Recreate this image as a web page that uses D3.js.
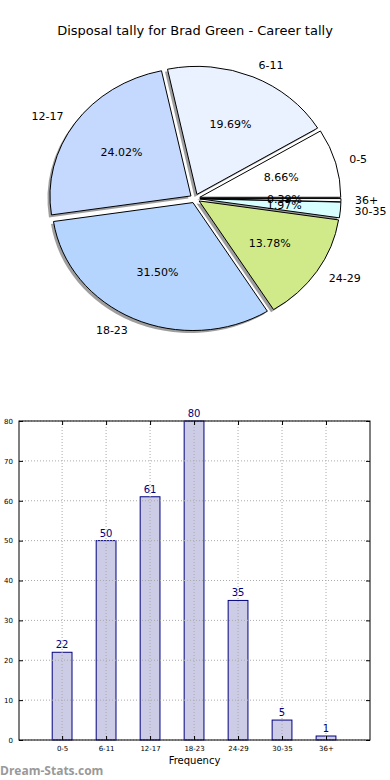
<!DOCTYPE html>
<html>
<head>
<meta charset="utf-8">
<script src="https://cdn.jsdelivr.net/npm/d3@7"></script>
<style>
  body { margin: 0; background: #fff; }
  svg { display: block; font-family: "DejaVu Sans", sans-serif; }
</style>
</head>
<body>
<svg id="chart" width="390" height="780"></svg>
<script>
var categories = ["0-5", "6-11", "12-17", "18-23", "24-29", "30-35", "36+"];
var tally = [22, 50, 61, 80, 35, 5, 1];
var sliceColors = ["#ffffff", "#eaf2ff", "#c5d9ff", "#b5d5ff", "#d0ea8a", "#d8ffff", "#ffffff"];
var yTicks = [0, 10, 20, 30, 40, 50, 60, 70, 80];
var title = "Disposal tally for Brad Green - Career tally";

var svg = d3.select('#chart');

svg.append('text')
    .attr('x', 195).attr('y', 35)
    .attr('text-anchor', 'middle')
    .attr('font-size', 13)
    .text(title);

// pie (matplotlib style: starts east, goes counter clockwise, squashed)
var cx = 195, cy = 198.5, rx = 141, ry = 128, expl = 0.035;
var total = d3.sum(tally);
var pie = d3.pie().sort(null).value(function(d) { return d; })
    .startAngle(Math.PI / 2).endAngle(Math.PI / 2 - 2 * Math.PI);
var arcs = pie(tally);
var arc = d3.arc().innerRadius(0).outerRadius(1);

function mid(a) { return (a.startAngle + a.endAngle) / 2; }
// d3 angle -> screen offset, scaled to the ellipse
function pt(a, r) { return [Math.sin(a) * rx * r, -Math.cos(a) * ry * r]; }

var g = svg.append('g');
arcs.forEach(function(a, i) {
  var m = mid(a), o = pt(m, expl);
  var sh = "translate(" + (cx + o[0] - 2.5) + "," + (cy + o[1] + 2.5) + ")scale(" + rx + "," + ry + ")";
  g.append('path').attr('d', arc(a)).attr('transform', sh)
      .attr('fill', '#000').attr('fill-opacity', 0.38);
});
arcs.forEach(function(a, i) {
  var m = mid(a), o = pt(m, expl);
  var tr = "translate(" + (cx + o[0]) + "," + (cy + o[1]) + ")scale(" + rx + "," + ry + ")";
  g.append('path').attr('d', arc(a)).attr('transform', tr)
      .attr('fill', sliceColors[i])
      .attr('stroke', '#000').attr('stroke-width', 1)
      .attr('vector-effect', 'non-scaling-stroke');
});
arcs.forEach(function(a, i) {
  var m = mid(a), o = pt(m, expl);
  var l = pt(m, 1.1), p = pt(m, 0.6);
  g.append('text')
      .attr('x', cx + o[0] + l[0]).attr('y', cy + o[1] + l[1])
      .attr('dy', '0.35em')
      .attr('text-anchor', Math.sin(m) > 0 ? 'start' : 'end')
      .attr('font-size', 11)
      .text(categories[i]);
  g.append('text')
      .attr('x', cx + o[0] + p[0]).attr('y', cy + o[1] + p[1])
      .attr('dy', '0.35em')
      .attr('text-anchor', 'middle')
      .attr('font-size', 11)
      .text((tally[i] / total * 100).toFixed(2) + '%');
});

// bar chart
var pl = 19, pr = 370, pt0 = 421, pb = 740;
var x = d3.scaleLinear().domain([-0.98, 7]).range([pl, pr]);
var y = d3.scaleLinear().domain([0, 80]).range([pb, pt0]);
var bw = x(0.45) - x(0);
var b = svg.append('g');

b.selectAll('rect.bar').data(tally).enter().append('rect')
    .attr('class', 'bar')
    .attr('x', function(d, i) { return x(i) - bw / 2; })
    .attr('y', function(d) { return y(d); })
    .attr('width', bw)
    .attr('height', function(d) { return y(0) - y(d); })
    .attr('fill', '#ccccE6')
    .attr('stroke', '#00007f').attr('stroke-width', 1);

// grid on top
b.selectAll('line.gy').data(yTicks).enter().append('line')
    .attr('x1', pl).attr('x2', pr)
    .attr('y1', function(d) { return y(d); }).attr('y2', function(d) { return y(d); })
    .attr('stroke', '#aaa').attr('stroke-dasharray', '1,2');
b.selectAll('line.gx').data(categories).enter().append('line')
    .attr('x1', function(d, i) { return x(i); }).attr('x2', function(d, i) { return x(i); })
    .attr('y1', pt0).attr('y2', pb)
    .attr('stroke', '#aaa').attr('stroke-dasharray', '1,2');

var yAxis = d3.axisLeft(y).tickValues(yTicks).tickSize(-4).tickPadding(6);
b.append('g').attr('transform', 'translate(' + pl + ',0)').call(yAxis);
var yAxisR = d3.axisRight(y).tickValues(yTicks).tickSize(-4).tickFormat('');
b.append('g').attr('transform', 'translate(' + pr + ',0)').call(yAxisR);
var xAxis = d3.axisBottom(x).tickValues(d3.range(categories.length))
    .tickFormat(function(i) { return categories[i]; }).tickSize(-4).tickPadding(6);
b.append('g').attr('transform', 'translate(0,' + pb + ')').call(xAxis);
var xAxisT = d3.axisTop(x).tickValues(d3.range(categories.length)).tickSize(-4).tickFormat('');
b.append('g').attr('transform', 'translate(0,' + pt0 + ')').call(xAxisT);
b.selectAll('.domain').remove();
b.selectAll('.tick text').attr('font-size', 7).attr('font-family', 'DejaVu Sans').attr('fill', '#000');
b.selectAll('.tick line').attr('stroke', '#000');

b.append('rect').attr('x', pl).attr('y', pt0)
    .attr('width', pr - pl).attr('height', pb - pt0)
    .attr('fill', 'none').attr('stroke', '#000');

b.selectAll('text.val').data(tally).enter().append('text')
    .attr('class', 'val')
    .attr('x', function(d, i) { return x(i); })
    .attr('y', function(d) { return y(d) - 4; })
    .attr('text-anchor', 'middle')
    .attr('font-size', 10)
    .attr('fill', '#00007f')
    .text(function(d) { return d; });

b.append('text').attr('x', (pl + pr) / 2).attr('y', 764)
    .attr('text-anchor', 'middle').attr('font-size', 10)
    .text('Frequency');

svg.append('text').attr('x', 0).attr('y', 775)
    .attr('font-size', 12).attr('font-weight', 'bold')
    .attr('font-family', '"Open Sans", sans-serif')
    .attr('fill', '#999')
    .text('Dream-Stats.com');
</script>
</body>
</html>
